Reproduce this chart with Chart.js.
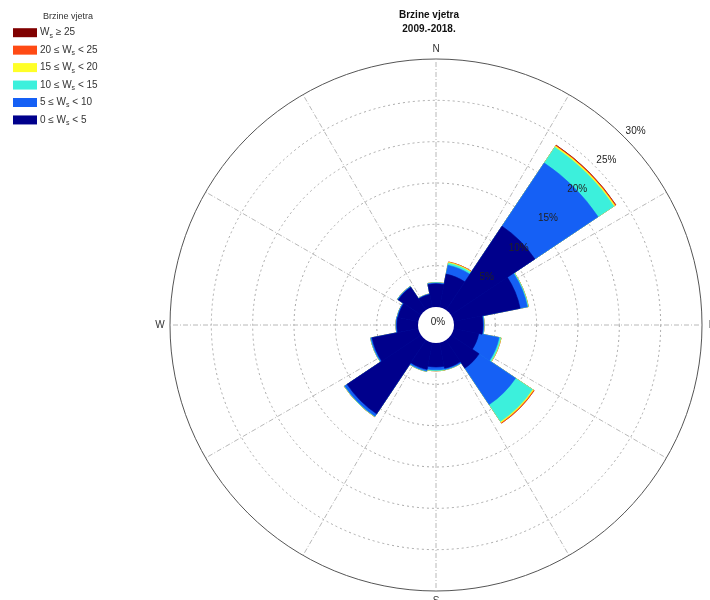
<!DOCTYPE html>
<html>
<head>
<meta charset="utf-8">
<script src="https://cdn.jsdelivr.net/npm/chart.js@4.4.1/dist/chart.umd.min.js"></script>
<style>
  html, body { margin: 0; padding: 0; background: #fff; }
</style>
</head>
<body>
<canvas id="ruza" width="710" height="600"></canvas>
<script>
// Ruža vjetrova 2009.-2018. - 16 smjerova, udio (%) po razredu brzine
const smjerovi = ['N', 'NNE', 'NE', 'ENE', 'E', 'ESE', 'SE', 'SSE', 'S', 'SSW', 'SW', 'WSW', 'W', 'WNW', 'NW', 'NNW'];

const ws0_5   = [2.8, 4.1, 12.2, 8.2, 3.5, 3.1, 4.1, 3.15, 2.9, 3.3, 10.75, 5.7, 2.55, 2.5, 3.3, 1.6];
const ws5_10  = [0.1, 1.1, 9.2, 0.9, 0.1, 2.5, 5.3, 0.15, 0.35, 0.2, 0.35, 0.15, 0.1, 0.1, 0.1, 0.05];
const ws10_15 = [0.05, 0.25, 2.3, 0.1, 0.05, 0.2, 2.45, 0.05, 0.1, 0.05, 0.05, 0.05, 0.02, 0.02, 0.03, 0.02];
const ws15_20 = [0, 0.1, 0.15, 0.02, 0, 0.05, 0.15, 0, 0.02, 0, 0.02, 0, 0, 0, 0, 0];
const ws20_25 = [0, 0.05, 0.1, 0, 0, 0, 0.1, 0, 0, 0, 0, 0, 0, 0, 0, 0];
const ws25    = [0, 0, 0.05, 0, 0, 0, 0, 0, 0, 0, 0, 0, 0, 0, 0, 0];

// legenda: tekst prije i poslije "W_s"
const oznakePrije   = ['0 \u2264 ', '5 \u2264 ', '10 \u2264 ', '15 \u2264 ', '20 \u2264 ', ''];
const oznakePoslije = [' < 5', ' < 10', ' < 15', ' < 20', ' < 25', ' \u2265 25'];
const boje = ['#00008c', '#1560f5', '#3cf0dc', '#ffff28', '#ff4a14', '#800000'];

const prstenovi = [0, 5, 10, 15, 20, 25, 30];
const kardinalni = ['N', 'E', 'S', 'W'];

// kumulativne vrijednosti (svaki razred se crta od središta)
const razredi = [ws0_5, ws5_10, ws10_15, ws15_20, ws20_25, ws25];
const kumulativ = [];
razredi.forEach((r, i) => {
    kumulativ.push(r.map((v, j) => v + (i > 0 ? kumulativ[i - 1][j] : 0)));
});

const FONT = "'Liberation Sans', Arial, sans-serif";

function tocka(cx, cy, r, azimut) {
    const a = azimut * Math.PI / 180;
    return [cx + r * Math.sin(a), cy - r * Math.cos(a)];
}

const dekor = {
    id: 'dekor',
    beforeDatasetsDraw(chart) {
        const s = chart.scales.r;
        const ctx = chart.ctx;
        const r0 = s.getDistanceFromCenterForValue(0);
        const r1 = s.getDistanceFromCenterForValue(30);
        ctx.save();
        ctx.strokeStyle = '#b8b8b8';
        ctx.lineWidth = 1;
        ctx.setLineDash([5, 2, 1, 2]);
        for (let k = 0; k < 12; k++) {
            const [x0, y0] = tocka(s.xCenter, s.yCenter, r0, k * 30);
            const [x1, y1] = tocka(s.xCenter, s.yCenter, r1, k * 30);
            ctx.beginPath();
            ctx.moveTo(x0, y0);
            ctx.lineTo(x1, y1);
            ctx.stroke();
        }
        ctx.restore();
    },
    afterDatasetsDraw(chart) {
        const s = chart.scales.r;
        const ctx = chart.ctx;
        ctx.save();
        // rupa u sredini
        ctx.fillStyle = '#fff';
        ctx.beginPath();
        ctx.arc(s.xCenter, s.yCenter, s.getDistanceFromCenterForValue(0), 0, Math.PI * 2);
        ctx.fill();
        ctx.fillStyle = '#222';
        ctx.font = '10px ' + FONT;
        ctx.textBaseline = 'middle';
        ctx.textAlign = 'center';
        ctx.fillText('0%', s.xCenter + 2, s.yCenter - 3);
        ctx.textAlign = 'left';
        prstenovi.slice(1).forEach(v => {
            const [x, y] = tocka(s.xCenter, s.yCenter, s.getDistanceFromCenterForValue(v), 45);
            ctx.fillText(v + '%', x + 1.5, y - 6);
        });
        ctx.restore();
    },
    afterDraw(chart) {
        const s = chart.scales.r;
        const ctx = chart.ctx;
        const R = s.getDistanceFromCenterForValue(30);
        ctx.save();
        // naslov
        ctx.fillStyle = '#111';
        ctx.textAlign = 'center';
        ctx.textBaseline = 'middle';
        ctx.font = 'bold 10px ' + FONT;
        ctx.fillText('Brzine vjetra', 429, 15);
        ctx.fillText('2009.-2018.', 429, 29);
        // strane svijeta
        ctx.font = '10px ' + FONT;
        ctx.fillStyle = '#333';
        kardinalni.forEach((t, i) => {
            const [x, y] = tocka(s.xCenter, s.yCenter, R + 10, i * 90);
            ctx.fillText(t, x, y);
        });
        // legenda
        ctx.font = '9px ' + FONT;
        ctx.fillText('Brzine vjetra', 68, 17);
        ctx.textAlign = 'left';
        for (let i = boje.length - 1; i >= 0; i--) {
            const y = 32.7 + (boje.length - 1 - i) * 17.45;
            ctx.fillStyle = boje[i];
            ctx.fillRect(13, y - 4.5, 24, 9);
            ctx.fillStyle = '#333';
            let x = 40;
            ctx.font = '10px ' + FONT;
            ctx.fillText(oznakePrije[i] + 'W', x, y);
            x += ctx.measureText(oznakePrije[i] + 'W').width;
            ctx.font = '7px ' + FONT;
            ctx.fillText('s', x, y + 3);
            x += ctx.measureText('s').width;
            ctx.font = '10px ' + FONT;
            ctx.fillText(oznakePoslije[i], x, y);
        }
        ctx.restore();
    }
};

new Chart(document.getElementById('ruza'), {
    type: 'polarArea',
    data: {
        labels: smjerovi,
        datasets: kumulativ.map((d, i) => ({
            label: oznakePrije[i] + 'Ws' + oznakePoslije[i],
            data: d,
            backgroundColor: boje[i],
            borderColor: boje[i],
            borderWidth: 0.6
        }))
    },
    options: {
        responsive: false,
        animation: false,
        layout: { padding: { top: 59, bottom: 9, left: 162, right: 0 } },
        plugins: {
            legend: { display: false },
            tooltip: { enabled: false }
        },
        scales: {
            r: {
                min: -2.177,
                max: 30,
                bounds: 'data',
                startAngle: -11.25,
                ticks: { display: false },
                afterBuildTicks: s => { s.ticks = prstenovi.map(v => ({ value: v })); },
                angleLines: { display: false },
                pointLabels: { display: false },
                grid: {
                    circular: true,
                    lineWidth: 1,
                    color: c => c.tick && c.tick.value === 30 ? '#555' : (c.tick && c.tick.value === 0 ? 'rgba(0,0,0,0)' : '#a8a8a8')
                },
                border: {
                    dash: c => c.tick && c.tick.value === 30 ? [] : [2, 3]
                }
            }
        }
    },
    plugins: [dekor]
});
</script>
</body>
</html>
